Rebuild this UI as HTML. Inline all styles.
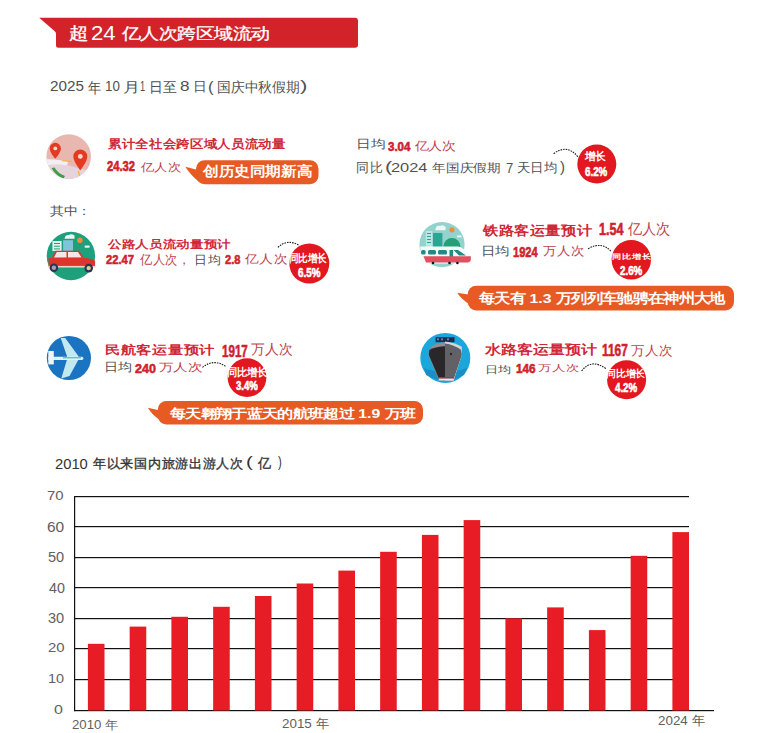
<!DOCTYPE html>
<html><head><meta charset="utf-8">
<style>
html,body{margin:0;padding:0;background:#fff;}
body{width:760px;height:733px;position:relative;overflow:hidden;font-family:"Liberation Sans",sans-serif;}
.a{position:absolute;white-space:nowrap;line-height:1;}
.yl{color:#555;font-size:14px;text-align:right;font-weight:300;}
.xl{color:#4a4a4a;font-size:13.6px;font-weight:300;}
</style></head><body>
<svg class="a" style="left:0;top:0" width="380" height="60"><path d="M39.2,17.7 L355,17.7 Q358,17.7 358,20.7 L358,45 Q358,47.8 355,47.8 L58.5,47.8 Q56,47.8 56,45.3 L56,34 Q56,32 54.5,31 Z" fill="#d2232a"/></svg>
<svg class="a" style="left:0;top:0" width="760" height="733"><rect x="196" y="160.2" width="122.50" height="24.10" rx="8.5" fill="#e85a24"/><path d="M185.3,166.8 L198,170 L198,181 Q191,175.5 185.3,166.8 Z" fill="#e85a24"/><rect x="467.7" y="285.8" width="266.30" height="24.70" rx="8.5" fill="#e85a24"/><path d="M457.2,292.7 L470,294.8 L470,304.5 Q462,300 457.2,292.7 Z" fill="#e85a24"/><rect x="157.8" y="400.9" width="265.20" height="23.70" rx="8.5" fill="#e85a24"/><path d="M147.9,407.7 L160,410.5 L160,420 Q152,415 147.9,407.7 Z" fill="#e85a24"/><path d="M553.6,153.7 Q567.4,143.5 578,157" fill="none" stroke="#222" stroke-width="1.1" stroke-dasharray="1.6,1"/><circle cx="596.8" cy="164.1" r="19.5" fill="#e2171f"/><path d="M277.9,247.4 Q287.3,238.3 299.5,245.6" fill="none" stroke="#222" stroke-width="1.1" stroke-dasharray="1.6,1"/><circle cx="309.3" cy="263.5" r="20" fill="#e2171f"/><path d="M588,248.7 Q601.6,241.2 610.8,251" fill="none" stroke="#222" stroke-width="1.1" stroke-dasharray="1.6,1"/><circle cx="631.3" cy="259.7" r="19.7" fill="#e2171f"/><path d="M202.4,367.4 Q213.8,358.2 226,366.6" fill="none" stroke="#222" stroke-width="1.1" stroke-dasharray="1.6,1"/><circle cx="247" cy="377.6" r="19.4" fill="#e2171f"/><path d="M581.6,371 Q591.4,358.1 606,368.7" fill="none" stroke="#222" stroke-width="1.1" stroke-dasharray="1.6,1"/><circle cx="626.6" cy="379.7" r="19.5" fill="#e2171f"/></svg>
<svg class="a" style="left:44px;top:132px" width="50" height="50">
  <defs><clipPath id="mc"><circle cx="24.7" cy="24.6" r="22.3"/></clipPath></defs>
  <circle cx="24.7" cy="24.6" r="22.3" fill="#e8b7b0"/>
  <g clip-path="url(#mc)">
  <path d="M0,33 Q18,31 30,35 L50,40 L50,50 L0,50 Z" fill="#e6d3dc"/>
  <path d="M0,27.3 Q14,26.5 24,30 L23,33.5 Q12,31.5 0,34 Z" fill="#f3eef2"/>
  <path d="M7.5,36 Q12,44 19.5,46.5 L21,44 Q14,41.5 10.5,35.5 Z" fill="#3e9e45"/>
  <path d="M18,28.6 L28,29.4" stroke="#f0b64a" stroke-width="1.2"/>
  <path d="M34.3,38.8 L35.8,45" stroke="#f0b64a" stroke-width="1.4"/>
  </g>
  <path d="M11.3,10.8 a5.6,5.6 0 0 1 5.6,5.6 c0,4.2 -5.6,10.2 -5.6,10.2 c0,0 -5.6,-6 -5.6,-10.2 a5.6,5.6 0 0 1 5.6,-5.6 Z" fill="#e43a22"/>
  <circle cx="11.3" cy="16.4" r="1.9" fill="#f6d7cf"/>
  <path d="M36.3,17.4 a7,7 0 0 1 7,7 c0,5.2 -7,13.8 -7,13.8 c0,0 -7,-8.6 -7,-13.8 a7,7 0 0 1 7,-7 Z" fill="#e43a22"/>
  <circle cx="36.3" cy="24.4" r="2.4" fill="#f6d7cf"/>
</svg>
<svg class="a" style="left:44px;top:228px" width="56" height="56">
  <circle cx="26.9" cy="28" r="24.2" fill="#1fa07c"/>
  <rect x="8.4" y="13" width="9.2" height="10" fill="#e6f2ee"/>
  <rect x="10" y="15" width="6" height="1" fill="#1fa07c"/><rect x="10" y="17.7" width="6" height="1" fill="#1fa07c"/><rect x="10" y="20.4" width="6" height="1" fill="#1fa07c"/>
  <rect x="19.1" y="12.2" width="9.9" height="10.7" fill="#7fc4d8"/>
  <path d="M20.6,10.7 Q21,6.5 25,7 Q27,5.5 30.5,7.5 L30.5,10.7 Z" fill="#eef7f4"/>
  <circle cx="35.9" cy="12.2" r="2.8" fill="#f08a3c"/>
  <rect x="40.5" y="17.6" width="5.3" height="2.2" rx="1" fill="#e6f2ee"/>
  <path d="M11.5,22.8 L35.1,22.8 L39.5,29.8 L8,29.8 Z" fill="#d9362e"/>
  <path d="M12.8,24 L22.5,24 L22.5,29.5 L10,29.5 Z M24,24 L34,24 L37.5,29.5 L24,29.5 Z" fill="#f1e9e6"/>
  <path d="M4.6,30 L39,29.8 Q50,30.5 51.1,33 L51.1,38.9 L4.6,38.9 Z" fill="#dc352c"/>
  <rect x="4.6" y="37.9" width="46.5" height="1.6" fill="#f3d3cc"/>
  <circle cx="9.9" cy="39.7" r="4.3" fill="#2d3352"/><circle cx="9.9" cy="39.7" r="2.2" fill="#9ea3b5"/>
  <circle cx="44.7" cy="40.1" r="4.3" fill="#2d3352"/><circle cx="44.7" cy="40.1" r="2.2" fill="#d8cf8a"/>
</svg>
<svg class="a" style="left:414px;top:216px" width="60" height="56">
  <defs><clipPath id="rc"><circle cx="28" cy="28.6" r="22.6"/></clipPath></defs>
  <circle cx="28" cy="28.6" r="22.6" fill="#93d3cd"/>
  <g clip-path="url(#rc)">
   <rect x="11.8" y="15" width="6.5" height="16" fill="#bfe6e2"/>
   <rect x="19" y="17" width="9.4" height="14" fill="#2aa693"/>
   <rect x="13" y="17" width="4" height="1" fill="#2aa693"/><rect x="13" y="20" width="4" height="1" fill="#2aa693"/><rect x="13" y="23" width="4" height="1" fill="#2aa693"/><rect x="13" y="26" width="4" height="1" fill="#2aa693"/>
   <ellipse cx="37.9" cy="30.5" rx="8.5" ry="8.4" fill="#23a078"/>
   <path d="M21.3,14.2 Q22,9 26,10 Q29,8 31.6,11 L31.6,14.2 Z" fill="#eef7f4"/>
   <rect x="43" y="19.5" width="4.5" height="1.8" fill="#eef7f4"/>
  </g>
  <circle cx="37.9" cy="13.8" r="2.6" fill="#f08a3c"/>
  <path d="M6.3,30.4 L44,30.4 Q50,31 56.8,41 L56.8,47.4 L6.3,47.4 Z" fill="#f4fbfa"/>
  <rect x="7.1" y="34" width="4.5" height="4.6" rx="1.5" fill="#1f8a86"/>
  <rect x="14" y="34" width="8" height="4.6" rx="1.5" fill="#1f8a86"/>
  <rect x="24" y="34" width="9" height="4.6" rx="1.5" fill="#1f8a86"/>
  <rect x="35.5" y="34" width="3.6" height="8" fill="#1f8a86"/>
  <path d="M39.5,34 L44,34 L52,39.5 L45,39.5 Z" fill="#1f8a86"/>
  <path d="M9.5,40.3 L56.8,40.3 L56.8,44 Q56,46.6 52,46.6 L12,46.6 Z" fill="#e05060"/>
  <circle cx="19" cy="47" r="1.3" fill="#111"/><circle cx="35.5" cy="47" r="1.3" fill="#111"/><circle cx="43.4" cy="47" r="1.3" fill="#111"/>
</svg>
<svg class="a" style="left:42px;top:332px" width="54" height="54">
  <circle cx="26.9" cy="26" r="22.1" fill="#1b74c1"/>
  <path d="M18.7,6 L23.2,6 L36.5,24.2 L36.5,27.6 L27.5,44 L19.3,46.5 L25,27.6 L25,24.2 Z" fill="#c2e8f0"/>
  <path d="M6.3,24.7 L40,24.7 Q43,26.3 40,28 L6.3,28 Z" fill="#dff3f6"/>
  <path d="M21,25.8 L39,25.8" stroke="#2b8c9a" stroke-width="0.8"/>
  <path d="M6.3,19 L11.8,19 L11.8,32.4 L6.3,32.4 Z" fill="#eef4f8"/>
</svg>
<svg class="a" style="left:416px;top:328px" width="60" height="60">
  <circle cx="29.3" cy="29.9" r="25" fill="#1ba7dc"/>
  <path d="M8,40 Q29,48 51,40 L48,47 Q29,58 10,47 Z" fill="#1a8fc6"/>
  <rect x="19.6" y="9.2" width="18.9" height="5" fill="#1d2a55"/>
  <rect x="21" y="10.3" width="2" height="2" fill="#6a7bb0"/><rect x="25" y="10.3" width="2" height="2" fill="#6a7bb0"/><rect x="31" y="10.3" width="2" height="2" fill="#6a7bb0"/>
  <path d="M14.7,18.8 Q28.6,9.5 45.8,18.8 L45.8,27 L37.6,52.4 L22.9,52.4 L12.3,27 Z" fill="#8d8d93"/>
  <path d="M29,13.5 Q38,14.5 45.8,18.8 L45.8,27 L37.6,52.4 L29,52.4 Z" fill="#d5d5da"/>
  <path d="M13.3,22 Q28.6,14.5 45,22 L45.4,27 L37.6,50.5 L22.9,50.5 L12.8,27 Z" fill="#2a272b"/>
  <path d="M29,15.5 Q38,16.5 45,22 L45.4,27 L37.6,50.5 L29,50.5 Z" fill="#626166"/>
  <circle cx="35" cy="26" r="1.2" fill="#2a272b"/>
  <rect x="22.9" y="49" width="14.7" height="1.6" fill="#b03030"/>
  <rect x="22.9" y="50.6" width="14.7" height="1.8" fill="#e8e8ea"/>
</svg>

<svg class="a" style="left:0;top:0" width="760" height="733"><rect x="74" y="496" width="1.2" height="215.2" fill="#111111"/><rect x="74" y="496" width="615" height="1.2" fill="#111111"/><rect x="74" y="526" width="615" height="1.2" fill="#111111"/><rect x="74" y="557" width="615" height="1.2" fill="#111111"/><rect x="74" y="587" width="615" height="1.2" fill="#111111"/><rect x="74" y="618" width="615" height="1.2" fill="#111111"/><rect x="74" y="648" width="615" height="1.2" fill="#111111"/><rect x="74" y="679" width="615" height="1.2" fill="#111111"/><rect x="74" y="710" width="640" height="1.2" fill="#111111"/><rect x="87.90" y="643.8" width="16.6" height="66.7" fill="#e81c24"/><rect x="129.65" y="626.6" width="16.6" height="83.9" fill="#e81c24"/><rect x="171.40" y="616.8" width="16.6" height="93.7" fill="#e81c24"/><rect x="213.15" y="606.8" width="16.6" height="103.7" fill="#e81c24"/><rect x="254.90" y="596" width="16.6" height="114.5" fill="#e81c24"/><rect x="296.65" y="583.5" width="16.6" height="127.0" fill="#e81c24"/><rect x="338.40" y="570.6" width="16.6" height="139.9" fill="#e81c24"/><rect x="380.15" y="551.8" width="16.6" height="158.7" fill="#e81c24"/><rect x="421.90" y="534.9" width="16.6" height="175.6" fill="#e81c24"/><rect x="463.65" y="520.1" width="16.6" height="190.4" fill="#e81c24"/><rect x="505.40" y="618.3" width="16.6" height="92.2" fill="#e81c24"/><rect x="547.15" y="607.4" width="16.6" height="103.1" fill="#e81c24"/><rect x="588.90" y="630.1" width="16.6" height="80.4" fill="#e81c24"/><rect x="630.65" y="555.8" width="16.6" height="154.7" fill="#e81c24"/><rect x="672.40" y="532.1" width="16.6" height="178.4" fill="#e81c24"/></svg>
<div class="a seg" id="titA" style="left:69.37px;top:24.82px;font-size:18.78px;font-weight:400;color:#ffffff;transform:scale(1.032,0.901);transform-origin:0 0;-webkit-text-stroke:0.35px currentColor;">超</div>
<div class="a seg" id="titB" style="left:91.09px;top:24.01px;font-size:19.57px;font-weight:400;color:#ffffff;transform:scale(1.132,1.000);transform-origin:0 0;">24</div>
<div class="a seg" id="titC" style="left:122.00px;top:25.84px;font-size:18.43px;font-weight:400;color:#ffffff;transform:scale(1.025,0.859);transform-origin:0 0;-webkit-text-stroke:0.35px currentColor;">亿人次跨区域流动</div>
<div class="a seg" id="sub1a" style="left:50.04px;top:78.98px;font-size:14.79px;font-weight:300;color:#505050;transform:scale(1.033,1.000);transform-origin:0 0;">2025</div>
<div class="a seg" id="sub1b" style="left:88.07px;top:80.05px;font-size:13.26px;font-weight:300;color:#505050;transform:scale(1.009,1.138);transform-origin:0 0;">年</div>
<div class="a seg" id="sub1c" style="left:104.78px;top:78.98px;font-size:14.79px;font-weight:300;color:#505050;transform:scale(0.903,1.000);transform-origin:0 0;">10</div>
<div class="a seg" id="sub1d" style="left:122.85px;top:79.99px;font-size:15.34px;font-weight:300;color:#505050;transform:scale(1.108,0.911);transform-origin:0 0;">月</div>
<div class="a seg" id="sub1e" style="left:140.21px;top:78.07px;font-size:15.22px;font-weight:300;color:#505050;transform:scale(0.609,1.000);transform-origin:0 0;">1</div>
<div class="a seg" id="sub1f" style="left:149.44px;top:80.11px;font-size:13.48px;font-weight:300;color:#505050;transform:scale(1.041,1.053);transform-origin:0 0;">日至</div>
<div class="a seg" id="sub1g" style="left:180.27px;top:78.98px;font-size:14.79px;font-weight:300;color:#505050;transform:scale(1.157,1.000);transform-origin:0 0;">8</div>
<div class="a seg" id="sub1h" style="left:192.53px;top:80.79px;font-size:13.73px;font-weight:300;color:#505050;transform:scale(1.004,0.942);transform-origin:0 0;">日</div>
<div class="a seg" id="sub2" style="left:207.54px;top:81.00px;font-size:13.72px;font-weight:300;color:#505050;transform:scale(1.225,1.000);transform-origin:0 0;">(</div>
<div class="a seg" id="sub3" style="left:216.51px;top:81.11px;font-size:13.82px;font-weight:300;color:#505050;transform:scale(0.984,1.000);transform-origin:0 0;">国庆中秋假期</div>
<div class="a seg" id="sub4" style="left:300.23px;top:79.39px;font-size:14.26px;font-weight:300;color:#505050;transform:scale(1.558,1.000);transform-origin:0 0;">)</div>
<div class="a seg" id="h1" style="left:107.52px;top:137.79px;font-size:13.61px;font-weight:700;color:#d02838;transform:scale(0.975,0.873);transform-origin:0 0;">累计全社会跨区域人员流动量</div>
<div class="a seg" id="n1" style="left:107.31px;top:160.23px;font-size:13.80px;font-weight:700;color:#d11f2e;transform:scale(0.811,1.000);transform-origin:0 0;-webkit-text-stroke:0.6px currentColor;">24.32</div>
<div class="a seg" id="u1" style="left:140.80px;top:161.71px;font-size:13.39px;font-weight:300;color:#c0404d;transform:scale(1.036,0.853);transform-origin:0 0;">亿人次</div>
<div class="a seg" id="p1" style="left:202.70px;top:165.42px;font-size:15.50px;font-weight:700;color:#ffffff;transform:scale(0.976,0.871);transform-origin:0 0;">创历史同期新高</div>
<div class="a seg" id="d1a" style="left:356.07px;top:138.52px;font-size:14.66px;font-weight:300;color:#505050;transform:scale(0.967,0.787);transform-origin:0 0;">日均</div>
<div class="a seg" id="d1n" style="left:387.77px;top:140.66px;font-size:12.25px;font-weight:700;color:#d11f2e;transform:scale(0.941,1.000);transform-origin:0 0;-webkit-text-stroke:0.6px currentColor;">3.04</div>
<div class="a seg" id="d1u" style="left:415.15px;top:139.79px;font-size:13.39px;font-weight:300;color:#c0404d;transform:scale(1.036,0.890);transform-origin:0 0;">亿人次</div>
<div class="a seg" id="t1a" style="left:356.00px;top:161.45px;font-size:13.73px;font-weight:300;color:#505050;transform:scale(0.968,0.978);transform-origin:0 0;">同比</div>
<div class="a seg" id="t1b" style="left:384.56px;top:159.98px;font-size:14.36px;font-weight:300;color:#505050;transform:scale(1.493,1.000);transform-origin:0 0;">(</div>
<div class="a seg" id="t1e" style="left:391.18px;top:161.01px;font-size:13.24px;font-weight:300;color:#505050;transform:scale(1.238,1.000);transform-origin:0 0;">2024</div>
<div class="a seg" id="t1f" style="left:432.46px;top:161.78px;font-size:13.97px;font-weight:300;color:#505050;transform:scale(0.988,0.873);transform-origin:0 0;">年国庆假期</div>
<div class="a seg" id="t1g" style="left:506.30px;top:162.19px;font-size:13.82px;font-weight:300;color:#505050;transform:scale(0.944,1.000);transform-origin:0 0;">7</div>
<div class="a seg" id="t1h" style="left:517.00px;top:160.54px;font-size:13.21px;font-weight:300;color:#505050;transform:scale(1.037,1.002);transform-origin:0 0;">天日均</div>
<div class="a seg" id="t1d" style="left:559.70px;top:159.98px;font-size:14.36px;font-weight:300;color:#505050;transform:scale(1.047,1.000);transform-origin:0 0;">)</div>
<div class="a seg" id="b1a" style="left:585.23px;top:151.14px;font-size:10.40px;font-weight:700;color:#ffffff;transform:scale(1.045,1.073);transform-origin:0 0;">增长</div>
<div class="a seg" id="b1b" style="left:585.21px;top:165.58px;font-size:12.82px;font-weight:700;color:#ffffff;transform:scale(0.761,1.000);transform-origin:0 0;-webkit-text-stroke:0.6px currentColor;">6.2%</div>
<div class="a seg" id="qz" style="left:49.82px;top:205.24px;font-size:13.39px;font-weight:300;color:#505050;transform:scale(1.056,0.900);transform-origin:0 0;">其中：</div>
<div class="a seg" id="h2" style="left:107.73px;top:238.62px;font-size:13.56px;font-weight:700;color:#d02838;transform:scale(0.975,0.795);transform-origin:0 0;">公路人员流动量预计</div>
<div class="a seg" id="n2" style="left:106.46px;top:252.96px;font-size:13.57px;font-weight:700;color:#d11f2e;transform:scale(0.828,1.000);transform-origin:0 0;-webkit-text-stroke:0.6px currentColor;">22.47</div>
<div class="a seg" id="u2" style="left:140.00px;top:254.11px;font-size:12.64px;font-weight:300;color:#c0404d;transform:scale(0.980,1.040);transform-origin:0 0;">亿人次，</div>
<div class="a seg" id="d2a" style="left:193.68px;top:253.59px;font-size:13.64px;font-weight:300;color:#505050;transform:scale(0.965,0.896);transform-origin:0 0;">日均</div>
<div class="a seg" id="d2n" style="left:224.92px;top:252.99px;font-size:13.38px;font-weight:700;color:#d11f2e;transform:scale(0.829,1.000);transform-origin:0 0;-webkit-text-stroke:0.6px currentColor;">2.8</div>
<div class="a seg" id="d2u" style="left:245.00px;top:253.46px;font-size:13.76px;font-weight:300;color:#c0404d;transform:scale(1.023,0.896);transform-origin:0 0;">亿人次</div>
<div class="a seg" id="b2a" style="left:288.86px;top:253.99px;font-size:9.34px;font-weight:700;color:#ffffff;transform:scale(1.053,1.207);transform-origin:0 0;">同比增长</div>
<div class="a seg" id="b2b" style="left:297.66px;top:267.36px;font-size:12.96px;font-weight:700;color:#ffffff;transform:scale(0.757,1.000);transform-origin:0 0;-webkit-text-stroke:0.6px currentColor;">6.5%</div>
<div class="a seg" id="h3" style="left:483.01px;top:223.56px;font-size:15.66px;font-weight:700;color:#d02838;transform:scale(0.976,0.832);transform-origin:0 0;">铁路客运量预计</div>
<div class="a seg" id="n3" style="left:598.95px;top:222.26px;font-size:15.86px;font-weight:700;color:#d11f2e;transform:scale(0.791,1.000);transform-origin:0 0;-webkit-text-stroke:0.6px currentColor;">1.54</div>
<div class="a seg" id="u3" style="left:628.00px;top:222.42px;font-size:13.73px;font-weight:300;color:#c0404d;transform:scale(1.012,1.072);transform-origin:0 0;">亿人次</div>
<div class="a seg" id="d3a" style="left:480.85px;top:245.36px;font-size:14.32px;font-weight:300;color:#505050;transform:scale(1.001,0.829);transform-origin:0 0;">日均</div>
<div class="a seg" id="d3n" style="left:513.38px;top:245.63px;font-size:13.80px;font-weight:700;color:#d11f2e;transform:scale(0.805,1.000);transform-origin:0 0;-webkit-text-stroke:0.6px currentColor;">1924</div>
<div class="a seg" id="d3u" style="left:542.73px;top:245.22px;font-size:13.65px;font-weight:300;color:#c0404d;transform:scale(1.001,0.896);transform-origin:0 0;">万人次</div>
<div class="a seg" id="b3a" style="left:611.73px;top:252.98px;font-size:9.67px;font-weight:700;color:#ffffff;transform:scale(0.989,0.754);transform-origin:0 0;">同比增长</div>
<div class="a seg" id="b3b" style="left:620.36px;top:264.51px;font-size:12.25px;font-weight:700;color:#ffffff;transform:scale(0.797,1.000);transform-origin:0 0;-webkit-text-stroke:0.6px currentColor;">2.6%</div>
<div class="a seg" id="p3" style="left:479.15px;top:291.94px;font-size:15.45px;font-weight:700;color:#ffffff;transform:scale(1.024,0.881);transform-origin:0 0;">每天有 1.3 万列列车驰骋在神州大地</div>
<div class="a seg" id="h4" style="left:105.06px;top:344.30px;font-size:15.87px;font-weight:700;color:#d02838;transform:scale(0.984,0.775);transform-origin:0 0;">民航客运量预计</div>
<div class="a seg" id="n4" style="left:222.00px;top:343.76px;font-size:16.62px;font-weight:700;color:#d11f2e;transform:scale(0.697,1.000);transform-origin:0 0;-webkit-text-stroke:0.6px currentColor;">1917</div>
<div class="a seg" id="u4" style="left:251.38px;top:343.22px;font-size:13.75px;font-weight:300;color:#c0404d;transform:scale(0.989,1.003);transform-origin:0 0;">万人次</div>
<div class="a seg" id="d4a" style="left:103.95px;top:362.12px;font-size:13.92px;font-weight:300;color:#505050;transform:scale(0.983,0.835);transform-origin:0 0;">日均</div>
<div class="a seg" id="d4n" style="left:135.27px;top:361.75px;font-size:13.66px;font-weight:700;color:#d11f2e;transform:scale(0.919,1.000);transform-origin:0 0;-webkit-text-stroke:0.6px currentColor;">240</div>
<div class="a seg" id="d4u" style="left:158.82px;top:363.47px;font-size:13.72px;font-weight:300;color:#c0404d;transform:scale(1.024,0.767);transform-origin:0 0;">万人次</div>
<div class="a seg" id="b4a" style="left:226.91px;top:367.29px;font-size:9.90px;font-weight:700;color:#ffffff;transform:scale(1.000,1.065);transform-origin:0 0;">同比增长</div>
<div class="a seg" id="b4b" style="left:235.66px;top:379.66px;font-size:12.25px;font-weight:700;color:#ffffff;transform:scale(0.781,1.000);transform-origin:0 0;-webkit-text-stroke:0.6px currentColor;">3.4%</div>
<div class="a seg" id="p4" style="left:169.60px;top:407.35px;font-size:15.40px;font-weight:700;color:#ffffff;transform:scale(1.022,0.820);transform-origin:0 0;">每天翱翔于蓝天的航班超过 1.9 万班</div>
<div class="a seg" id="h5" style="left:485.26px;top:344.45px;font-size:15.79px;font-weight:700;color:#d02838;transform:scale(0.996,0.803);transform-origin:0 0;">水路客运量预计</div>
<div class="a seg" id="n5" style="left:601.98px;top:343.11px;font-size:16.62px;font-weight:700;color:#d11f2e;transform:scale(0.718,1.000);transform-origin:0 0;-webkit-text-stroke:0.6px currentColor;">1167</div>
<div class="a seg" id="u5" style="left:630.67px;top:344.10px;font-size:13.75px;font-weight:300;color:#c0404d;transform:scale(1.011,0.968);transform-origin:0 0;">万人次</div>
<div class="a seg" id="d5a" style="left:484.74px;top:364.18px;font-size:13.47px;font-weight:300;color:#505050;transform:scale(1.022,0.777);transform-origin:0 0;">日均</div>
<div class="a seg" id="d5n" style="left:515.65px;top:362.96px;font-size:12.96px;font-weight:700;color:#d11f2e;transform:scale(0.907,1.000);transform-origin:0 0;-webkit-text-stroke:0.6px currentColor;">146</div>
<div class="a seg" id="d5u" style="left:538.02px;top:364.14px;font-size:13.75px;font-weight:300;color:#c0404d;transform:scale(1.012,0.677);transform-origin:0 0;">万人次</div>
<div class="a seg" id="b5a" style="left:606.24px;top:369.05px;font-size:9.69px;font-weight:700;color:#ffffff;transform:scale(0.978,0.988);transform-origin:0 0;">同比增长</div>
<div class="a seg" id="b5b" style="left:614.61px;top:380.54px;font-size:13.38px;font-weight:700;color:#ffffff;transform:scale(0.726,1.000);transform-origin:0 0;-webkit-text-stroke:0.6px currentColor;">4.2%</div>
<div class="a seg" id="cta" style="left:55.26px;top:456.65px;font-size:14.37px;font-weight:400;color:#333333;transform:scale(1.027,1.000);transform-origin:0 0;">2010</div>
<div class="a seg" id="ctb" style="left:93.07px;top:457.30px;font-size:13.67px;font-weight:500;color:#333333;transform:scale(0.980,0.971);transform-origin:0 0;-webkit-text-stroke:0.35px currentColor;">年以来国内旅游出游人次</div>
<div class="a seg" id="ctc" style="left:246.42px;top:454.30px;font-size:15.43px;font-weight:400;color:#333333;transform:scale(1.326,1.000);transform-origin:0 0;">(</div>
<div class="a seg" id="ctd" style="left:258.40px;top:456.88px;font-size:13.16px;font-weight:500;color:#333333;transform:scale(0.966,1.038);transform-origin:0 0;-webkit-text-stroke:0.35px currentColor;">亿</div>
<div class="a seg" id="cte" style="left:277.94px;top:454.30px;font-size:15.43px;font-weight:400;color:#333333;transform:scale(0.737,1.000);transform-origin:0 0;">)</div>
<div class="a seg" id="y70" style="left:47.41px;top:488.95px;font-size:13.66px;font-weight:400;color:#606060;transform:scale(1.091,1.000);transform-origin:0 0;">70</div>
<div class="a seg" id="y60" style="left:46.78px;top:520.53px;font-size:13.80px;font-weight:400;color:#606060;transform:scale(1.121,1.000);transform-origin:0 0;">60</div>
<div class="a seg" id="y50" style="left:47.62px;top:550.34px;font-size:14.08px;font-weight:400;color:#606060;transform:scale(1.034,1.000);transform-origin:0 0;">50</div>
<div class="a seg" id="y40" style="left:48.61px;top:581.73px;font-size:13.80px;font-weight:400;color:#606060;transform:scale(1.035,1.000);transform-origin:0 0;">40</div>
<div class="a seg" id="y30" style="left:47.62px;top:612.08px;font-size:13.80px;font-weight:400;color:#606060;transform:scale(1.055,1.000);transform-origin:0 0;">30</div>
<div class="a seg" id="y20" style="left:47.61px;top:641.39px;font-size:13.38px;font-weight:400;color:#606060;transform:scale(1.114,1.000);transform-origin:0 0;">20</div>
<div class="a seg" id="y10" style="left:47.90px;top:672.16px;font-size:13.24px;font-weight:400;color:#606060;transform:scale(1.090,1.000);transform-origin:0 0;">10</div>
<div class="a seg" id="y0" style="left:54.46px;top:703.86px;font-size:12.25px;font-weight:400;color:#606060;transform:scale(1.305,1.000);transform-origin:0 0;">0</div>
<div class="a seg" id="x10" style="left:71.74px;top:719.10px;font-size:13.20px;font-weight:400;color:#606060;transform:scale(1.001,0.910);transform-origin:0 0;">2010 年</div>
<div class="a seg" id="x15" style="left:281.93px;top:717.49px;font-size:13.14px;font-weight:400;color:#606060;transform:scale(1.021,1.000);transform-origin:0 0;">2015 年</div>
<div class="a seg" id="x24" style="left:657.73px;top:714.29px;font-size:13.14px;font-weight:400;color:#606060;transform:scale(1.021,1.000);transform-origin:0 0;">2024 年</div>
</body></html>
